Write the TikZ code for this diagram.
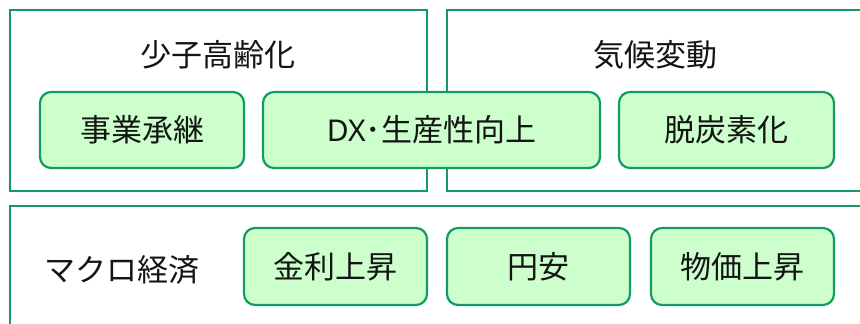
\documentclass[tikz,border=0pt]{standalone}
\usepackage{fontspec}
\setmainfont{Noto Sans CJK JP}
\newfontfamily\latinfont{Noto Sans}
\definecolor{bordergreen}{RGB}{20,155,100}
\definecolor{fillgreen}{RGB}{204,255,204}
\definecolor{txt}{RGB}{20,20,20}
\begin{document}
\begin{tikzpicture}[x=1pt,y=-1pt,
  group/.style={draw=bordergreen,line width=2pt},
  item/.style={draw=bordergreen,fill=fillgreen,line width=2.2pt,rounded corners=11pt},
  lbl/.style={text=txt,font=\fontsize{31}{36}\selectfont,inner sep=0pt}]
\useasboundingbox (0,0) rectangle (860,324);
\clip (0,0) rectangle (860,324);
% group frames
\draw[group] (10,10) rectangle (427,191);
\draw[group] (447,10) rectangle (875,191);
\draw[group] (10,206) rectangle (875,340);
\node[lbl] (g1) at (218,55) {少子高齢化};
\node[lbl] (g2) at (655,55) {気候変動};
\node[lbl] (g3) at (122,270) {マクロ経済};
% items
\draw[item] (40,92) rectangle (244,168) node[midway,lbl] (a1) {事業承継};
\draw[item] (263,92) rectangle (600,168) node[midway,lbl] (a2) {{\latinfont\fontsize{30}{36}\selectfont DX}･生産性向上};
\draw[item] (619,92) rectangle (834,168) node[midway,lbl] (a3) {脱炭素化};
\draw[item] (244,228) rectangle (427,305) node[midway,lbl] (b1) {金利上昇};
\draw[item] (447,228) rectangle (630,305) node[midway,lbl] (b2) {円安};
\draw[item] (651,228) rectangle (834,305) node[midway,lbl] (b3) {物価上昇};
\end{tikzpicture}
\end{document}
